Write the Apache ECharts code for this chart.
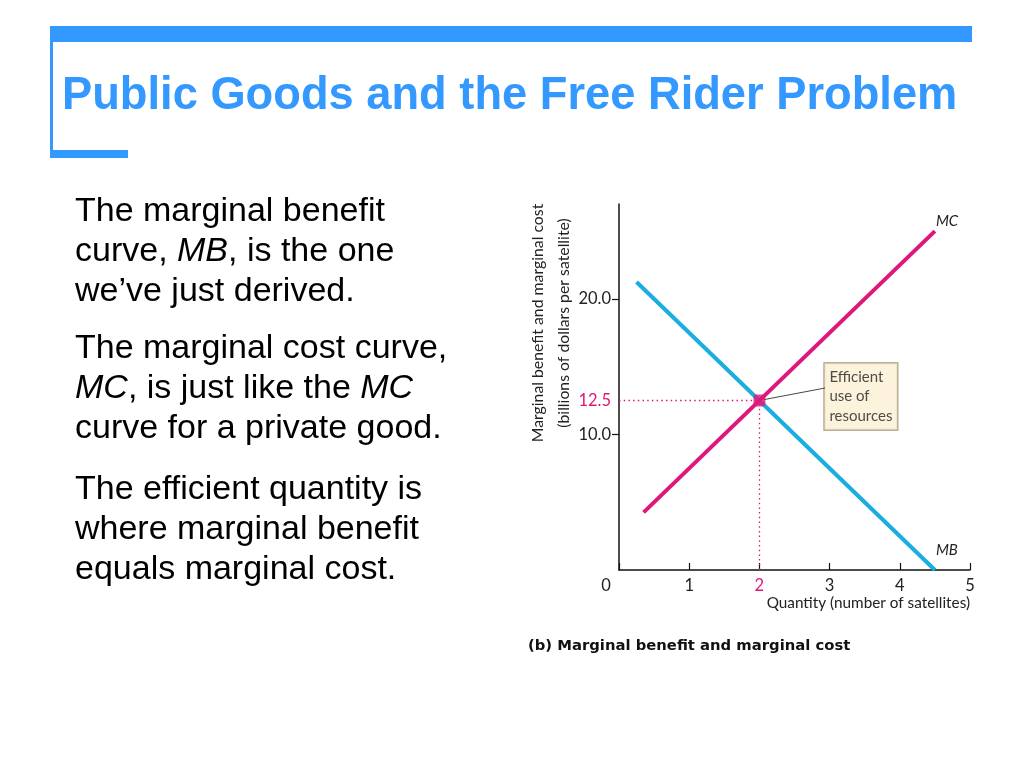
<!DOCTYPE html>
<html>
<head>
<meta charset="utf-8">
<script src="https://cdn.jsdelivr.net/npm/echarts@6/dist/echarts.min.js"></script>
<style>
html,body{margin:0;padding:0;background:#fff;}
#c{width:1024px;height:768px;}
</style>
</head>
<body>
<div id="c"></div>
<script>
// ---- data ----
var xTicks = [0, 1, 2, 3, 4, 5];
var yTickValues = [10, 20];
var yLabelValues = [10, 12.5, 20];
var mbPoints = [[0.25, 21.25], [4.5, 0]];
var mcPoints = [[0.35, 4.25], [4.5, 25]];
var efficientQ = 2;
var efficientP = 12.5;
var titleText = 'Public Goods and the Free Rider Problem';
var para1 = 'The marginal benefit\ncurve, {i|MB}, is the one\nwe\u2019ve just derived.';
var para2 = 'The marginal cost curve,\n{i|MC}, is just like the {i|MC}\ncurve for a private good.';
var para3 = 'The efficient quantity is\nwhere marginal benefit\nequals marginal cost.';
var yName = 'Marginal benefit and marginal cost\n(billions of dollars per satellite)';
var xName = 'Quantity (number of satellites)';
var caption = '(b) Marginal benefit and marginal cost';
var annotation = 'Efficient\nuse of\nresources';

var BLUE = '#3399FF', MBC = '#19AEDF', MCC = '#E0177A', INK = '#222';
var CF = 'Lato';
var bodyRich = { i: { fontStyle: 'italic', fontSize: 34, lineHeight: 40, fontFamily: 'Liberation Sans', fill: '#000' } };

function bodyText(txt, y) {
  return { type: 'text', left: 75, top: y, style: { text: txt, fontSize: 34, lineHeight: 40, fontFamily: 'Liberation Sans', fill: '#000', rich: bodyRich } };
}

var baseGraphics = [
  { type: 'rect', shape: { x: 50, y: 26, width: 922, height: 16 }, style: { fill: BLUE } },
  { type: 'rect', shape: { x: 50, y: 26, width: 3, height: 132 }, style: { fill: BLUE } },
  { type: 'rect', shape: { x: 50, y: 150, width: 78, height: 8 }, style: { fill: BLUE } },
  { type: 'text', x: 62, y: 96, scaleX: 0.963, style: { text: titleText, fontSize: 47, fontWeight: 'bold', fontFamily: 'Liberation Sans', fill: BLUE, verticalAlign: 'middle' } },
  bodyText(para1, 192),
  bodyText(para2, 329),
  bodyText(para3, 470),
  { type: 'text', x: 551, y: 323, rotation: Math.PI / 2, style: { text: yName, fontSize: 15.8, lineHeight: 26, fontFamily: CF, fill: INK, align: 'center', verticalAlign: 'middle' } },
  { type: 'text', x: 528, y: 646, style: { text: caption, fontSize: 14.8, fontWeight: 'bold', fontFamily: 'DejaVu Sans', fill: '#111', verticalAlign: 'middle' } }
];

var chart = echarts.init(document.getElementById('c'), null, { renderer: 'canvas' });
chart.setOption({
  backgroundColor: '#fff',
  animation: false,
  graphic: baseGraphics,
  grid: { left: 619, top: 204, width: 351, height: 366 },
  xAxis: {
    type: 'value', min: 0, max: 5, interval: 1,
    axisLine: { lineStyle: { color: '#111', width: 1.5 } },
    axisTick: { inside: true, length: 7, lineStyle: { color: '#111', width: 1.2 } },
    splitLine: { show: false },
    axisLabel: {
      margin: 7, fontSize: 16.5, color: INK, fontFamily: CF,
      formatter: function (v) { if (v === 0) return '{z|0}'; if (v === efficientQ) return '{p|' + v + '}'; return String(v); },
      rich: { z: { padding: [0, 26, 0, 0], fontSize: 16.5, color: INK, fontFamily: CF }, p: { fontSize: 16.5, color: MCC, fontFamily: CF } }
    },
    name: xName, nameLocation: 'end', nameGap: 0,
    nameTextStyle: { align: 'right', verticalAlign: 'top', padding: [26, 0, 0, 0], fontSize: 15.3, color: INK, fontFamily: CF }
  },
  yAxis: {
    type: 'value', min: 0, max: 27, interval: 10,
    axisLine: { show: true, lineStyle: { color: '#111', width: 1.5 } },
    axisTick: { show: true, length: 7, customValues: yTickValues, lineStyle: { color: '#111', width: 1.2 } },
    splitLine: { show: false },
    axisLabel: {
      margin: 8, fontSize: 16.5, color: INK, fontFamily: CF, customValues: yLabelValues,
      formatter: function (v) { return v === efficientP ? '{p|' + v + '}' : v.toFixed(1); },
      rich: { p: { fontSize: 16.5, color: MCC, fontFamily: CF } }
    }
  },
  series: [
    {
      type: 'line', name: 'MB', data: mbPoints, showSymbol: false, z: 2,
      lineStyle: { color: MBC, width: 4 }, itemStyle: { color: MBC },
      endLabel: { show: true, formatter: 'MB', fontStyle: 'italic', fontSize: 15, color: INK, fontFamily: CF, offset: [-7, -20] }
    },
    {
      type: 'line', name: 'MC', data: mcPoints, showSymbol: false, z: 3,
      lineStyle: { color: MCC, width: 4 }, itemStyle: { color: MCC },
      endLabel: { show: true, formatter: 'MC', fontStyle: 'italic', fontSize: 15, color: INK, fontFamily: CF, offset: [-7, -10] },
      markLine: {
        silent: true, symbol: 'none', label: { show: false },
        lineStyle: { color: MCC, type: [1.5, 3.2], width: 1.3 },
        data: [
          [{ coord: [0, efficientP] }, { coord: [efficientQ, efficientP] }],
          [{ coord: [efficientQ, 0] }, { coord: [efficientQ, efficientP] }]
        ]
      }
    },
    {
      type: 'scatter', data: [[efficientQ, efficientP]], symbol: 'roundRect', symbolSize: 12, z: 5,
      itemStyle: { color: MCC },
      label: {
        show: true, position: 'right', distance: 5, formatter: annotation,
        backgroundColor: '#FCEFD2', borderColor: '#8C7B5A', borderWidth: 1,
        padding: [4, 5, 4, 5], fontSize: 15, lineHeight: 19.5, color: INK, fontFamily: CF, align: 'left'
      },
      labelLayout: { dx: 54, dy: -4 }
    }
  ]
});

// leader line from the efficient point to the annotation box
var pt = chart.convertToPixel({ gridIndex: 0 }, [efficientQ, efficientP]);
chart.setOption({
  graphic: baseGraphics.concat([
    { type: 'line', z: 100, shape: { x1: pt[0] + 5, y1: pt[1] - 1, x2: 825, y2: 388 }, style: { stroke: '#333', lineWidth: 0.9 } }
  ])
});
</script>
</body>
</html>
